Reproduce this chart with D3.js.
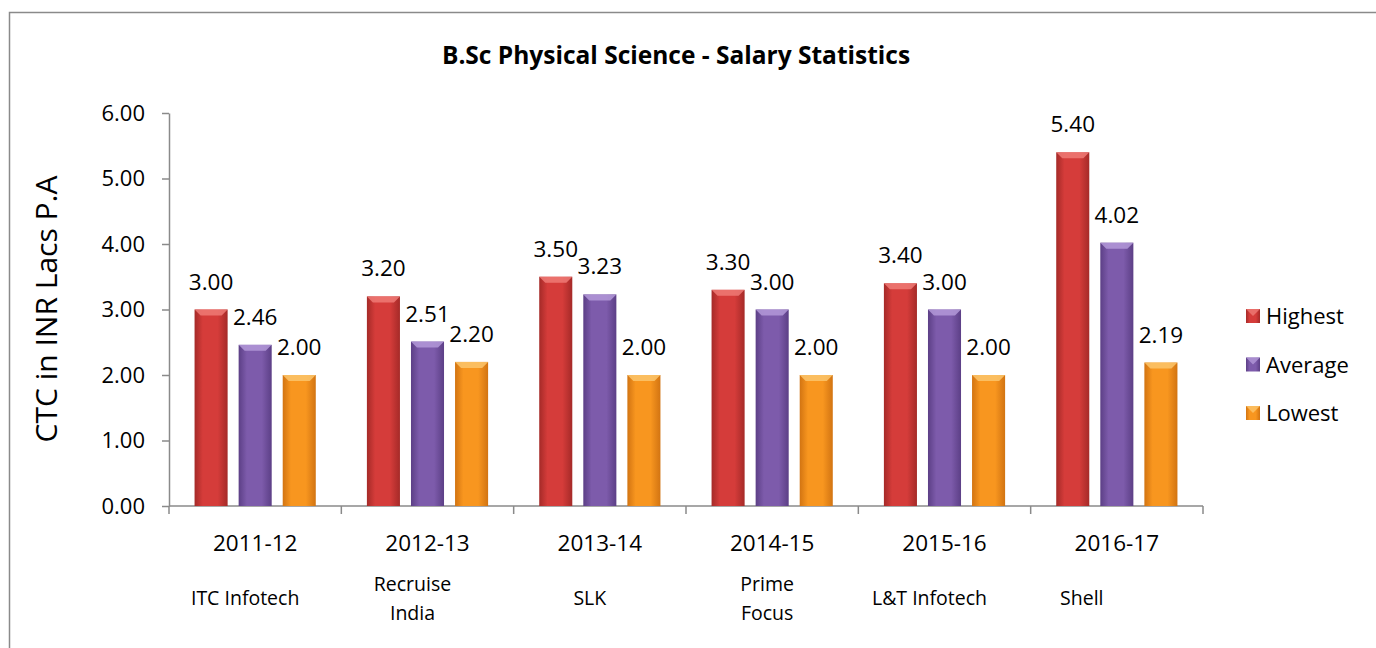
<!DOCTYPE html>
<html>
<head>
<meta charset="utf-8">
<script src="https://cdn.jsdelivr.net/npm/d3@7"></script>
<style>
  body { margin: 0; background: #fff; }
  text { font-family: "Open Sans", "DejaVu Sans", sans-serif; fill: #000; }
</style>
</head>
<body>
<div id="chart"></div>
<script>
// chart data
const years = ["2011-12", "2012-13", "2013-14", "2014-15", "2015-16", "2016-17"]
const companies = [["ITC Infotech"], ["Recruise", "India"], ["SLK"], ["Prime", "Focus"], ["L&T Infotech"], ["Shell"]]
const seriesNames = ["Highest", "Average", "Lowest"]
const highest = [3.00, 3.20, 3.50, 3.30, 3.40, 5.40]
const average = [2.46, 2.51, 3.23, 3.00, 3.00, 4.02]
const lowest = [2.00, 2.20, 2.00, 2.00, 2.00, 2.19]
const yTicks = [0, 1, 2, 3, 4, 5, 6]

const svgWidth = 1376
const svgHeight = 648

let margin = { top: 113, left: 169, right: 173, bottom: 142 }
let width = svgWidth - margin.left - margin.right
let height = svgHeight - margin.top - margin.bottom

let svg = d3.select("#chart")
	.append("svg")
	.attr("width", svgWidth)
	.attr("height", svgHeight)

// colour for each series: [edge, middle, bevel]
const colors = {
	Highest: ["#a52a28", "#d53c3a", "#ee7a76"],
	Average: ["#5c3f86", "#7d5bab", "#b399d8"],
	Lowest: ["#d27412", "#f8961f", "#fcc66c"]
}

let defs = svg.append("defs")
seriesNames.forEach(s => {
	let g = defs.append("linearGradient").attr("id", "grad-" + s)
		.attr("x1", "0%").attr("x2", "100%").attr("y1", "0%").attr("y2", "0%")
	g.append("stop").attr("offset", "0%").attr("stop-color", colors[s][0])
	g.append("stop").attr("offset", "25%").attr("stop-color", colors[s][1])
	g.append("stop").attr("offset", "70%").attr("stop-color", colors[s][1])
	g.append("stop").attr("offset", "100%").attr("stop-color", colors[s][0])
})

// outer frame
svg.append("rect")
	.attr("x", 9.5).attr("y", 12.5)
	.attr("width", svgWidth).attr("height", svgHeight)
	.attr("fill", "none").attr("stroke", "#8a8a8a").attr("stroke-width", 1.5)

// title
svg.append("text")
	.attr("x", 676).attr("y", 64)
	.attr("text-anchor", "middle")
	.style("font-size", "24.5px").style("font-weight", "bold")
	.text("B.Sc Physical Science - Salary Statistics")

let chartGroup = svg.append("g")
	.attr("transform", `translate(${margin.left}, ${margin.top})`)

// scales
let x = d3.scaleBand().domain(years).range([0, width]).padding(0)
let xSub = d3.scaleBand().domain(seriesNames).range([0, x.bandwidth()])
	.paddingInner(0.25).paddingOuter(0.58)
let y = d3.scaleLinear().domain([0, 6]).range([height, 0])

// y axis
let yAxis = chartGroup.append("g")
	.call(d3.axisLeft(y).tickValues(yTicks).tickFormat(d3.format(".2f")).tickSize(7).tickSizeOuter(0).tickPadding(17))
yAxis.select(".domain").attr("stroke", "#8a8a8a").attr("stroke-width", 1.5)
yAxis.selectAll(".tick line").attr("stroke", "#8a8a8a").attr("stroke-width", 1.5)
yAxis.selectAll(".tick text").style("font-size", "22px").style("font-family", "Open Sans")

// x axis: labels at centres, ticks at band edges
let xAxis = chartGroup.append("g")
	.attr("transform", `translate(0, ${height})`)
	.call(d3.axisBottom(x).tickSize(0).tickPadding(29))
xAxis.select(".domain").remove()
xAxis.selectAll(".tick text").style("font-size", "22.5px").style("font-family", "Open Sans")

let edges = years.map(d => x(d)).concat([width])
chartGroup.append("line")
	.attr("x1", 0).attr("x2", width).attr("y1", height).attr("y2", height)
	.attr("stroke", "#8a8a8a").attr("stroke-width", 1.5)
chartGroup.selectAll(".xtick").data(edges).enter().append("line")
	.attr("class", "xtick")
	.attr("x1", d => d).attr("x2", d => d)
	.attr("y1", height).attr("y2", height + 8)
	.attr("stroke", "#8a8a8a").attr("stroke-width", 1.5)

// y axis title
svg.append("text")
	.attr("transform", "translate(57, 309) rotate(-90)")
	.attr("text-anchor", "middle")
	.style("font-size", "30px")
	.text("CTC in INR Lacs P.A")

// bars
let rows = years.map((yr, i) => ({
	year: yr,
	values: [
		{ key: "Highest", value: highest[i] },
		{ key: "Average", value: average[i] },
		{ key: "Lowest", value: lowest[i] }
	]
}))

let groups = chartGroup.selectAll(".group").data(rows).enter().append("g")
	.attr("class", "group")
	.attr("transform", d => `translate(${x(d.year)}, 0)`)

let bars = groups.selectAll(".bar").data(d => d.values).enter().append("g").attr("class", "bar")

bars.append("rect")
	.attr("x", d => xSub(d.key))
	.attr("y", d => y(d.value))
	.attr("width", xSub.bandwidth())
	.attr("height", d => height - y(d.value))
	.attr("fill", d => `url(#grad-${d.key})`)

// bevel on top of each bar
bars.append("path")
	.attr("d", d => {
		let x0 = xSub(d.key), w = xSub.bandwidth(), t = y(d.value), b = 6
		return `M${x0},${t} L${x0 + w},${t} L${x0 + w - b},${t + b} L${x0 + b},${t + b} Z`
	})
	.attr("fill", d => colors[d.key][2])
	.attr("opacity", 0.85)

// value labels
bars.append("text")
	.attr("x", d => xSub(d.key) + xSub.bandwidth() / 2)
	.attr("y", d => y(d.value) - 20)
	.attr("text-anchor", "middle")
	.style("font-size", "22.5px")
	.text(d => d3.format(".2f")(d.value))

// company names under the years
const companyShift = [-10, -15, -10, -5, -15, -35]
companies.forEach((lines, i) => {
	let cx = margin.left + x(years[i]) + x.bandwidth() / 2 + companyShift[i]
	let top = lines.length === 1 ? 598 : 584
	let t = svg.append("text")
		.attr("text-anchor", "middle")
		.style("font-size", "19.5px")
	lines.forEach((ln, j) => {
		t.append("tspan").attr("x", cx).attr("y", top + j * 29 + 7).text(ln)
	})
})

// legend
let legend = svg.append("g").attr("transform", "translate(1246, 316)")
seriesNames.forEach((s, i) => {
	let row = legend.append("g").attr("transform", `translate(0, ${i * 48.5})`)
	row.append("rect").attr("x", 0).attr("y", -7).attr("width", 14).attr("height", 14)
		.attr("fill", `url(#grad-${s})`)
	row.append("path").attr("d", "M0,-7 L14,-7 L7,0 Z").attr("fill", colors[s][2]).attr("opacity", 0.8)
	row.append("text").attr("x", 20).attr("y", 8).style("font-size", "22px").text(s)
})
</script>
</body>
</html>
